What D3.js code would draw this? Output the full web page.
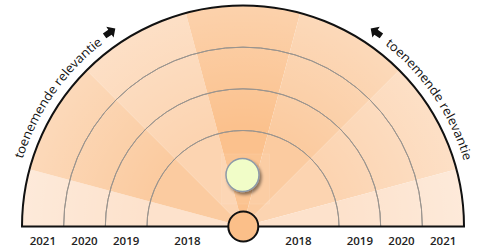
<!DOCTYPE html>
<html>
<head>
<meta charset="utf-8">
<script src="https://cdn.jsdelivr.net/npm/d3@7"></script>
<style>
  body { margin: 0; background: #fff; }
  svg { display: block; }
</style>
</head>
<body>
<svg id="chart" width="478" height="251"></svg>
<script>
// jaren (ringen) en sectoren
const years = [2018, 2019, 2020, 2021];
const sectorStart = [0, 15, 45, 75, 105, 135, 165];
const sectorEnd = [15, 45, 75, 105, 135, 165, 180];
const sectorLevel = ["laag", "midden", "licht", "hoog", "midden", "licht", "laag"];
const levels = ["laag", "licht", "midden", "hoog"];
const arcLabel = "toenemende relevantie";

const width = 478;
const height = 251;
const cx = 243;
const cy = 226.5;
const innerR = 15;

const svg = d3.select("#chart");

const rScale = d3.scaleLinear().domain([2018, 2021]).range([96, 221]);
const outerR = rScale(2021);

const color = d3.scaleOrdinal()
  .domain(levels)
  .range(["#fde2cc", "#fcd4b1", "#fbcba0", "#fbc18d"]);

// hoeken: 0 = links horizontaal, 180 = rechts horizontaal
const toRad = (deg) => ((deg - 90) * Math.PI) / 180;

const defs = svg.append("defs");

// verloop in de coordinaten van de groep (middelpunt = 0,0)
const grad = defs.append("radialGradient")
  .attr("id", "fade")
  .attr("gradientUnits", "userSpaceOnUse")
  .attr("cx", 0)
  .attr("cy", 0)
  .attr("r", outerR);
grad.append("stop").attr("offset", 0).attr("stop-color", "#fff").attr("stop-opacity", 0);
grad.append("stop").attr("offset", 0.45).attr("stop-color", "#fff").attr("stop-opacity", 0);
grad.append("stop").attr("offset", 1).attr("stop-color", "#fff").attr("stop-opacity", 0.27);

defs.append("filter")
  .attr("id", "shadow")
  .attr("x", "-50%").attr("y", "-50%")
  .attr("width", "200%").attr("height", "200%")
  .append("feDropShadow")
  .attr("dx", 2)
  .attr("dy", 2.5)
  .attr("stdDeviation", 1.6)
  .attr("flood-color", "rgba(0,0,0,0.45)");

const g = svg.append("g").attr("transform", `translate(${cx},${cy})`);

const sectors = sectorStart.map((s, i) => ({
  start: s,
  end: sectorEnd[i],
  level: sectorLevel[i],
}));

const sectorArc = d3.arc()
  .innerRadius(0)
  .outerRadius(outerR)
  .startAngle((d) => toRad(d.start))
  .endAngle((d) => toRad(d.end));

g.selectAll(".sector")
  .data(sectors)
  .join("path")
  .attr("class", "sector")
  .attr("d", sectorArc)
  .attr("fill", (d) => color(d.level));

// lichter naar de rand toe
g.append("path")
  .attr("d", d3.arc()({ innerRadius: 0, outerRadius: outerR, startAngle: -Math.PI / 2, endAngle: Math.PI / 2 }))
  .attr("fill", "url(#fade)");

// binnenste ringen
const ringArc = (r) =>
  d3.arc()({ innerRadius: r, outerRadius: r, startAngle: -Math.PI / 2, endAngle: Math.PI / 2 });

g.selectAll(".ring")
  .data(years.slice(0, -1))
  .join("path")
  .attr("class", "ring")
  .attr("d", (d) => ringArc(rScale(d)))
  .attr("fill", "none")
  .attr("stroke", "#9a948e")
  .attr("stroke-width", 1);

// buitenrand
g.append("path")
  .attr("d", ringArc(outerR))
  .attr("fill", "none")
  .attr("stroke", "#111")
  .attr("stroke-width", 2);

g.append("line")
  .attr("x1", -outerR - 1)
  .attr("x2", outerR + 1)
  .attr("y1", 0)
  .attr("y2", 0)
  .attr("stroke", "#111")
  .attr("stroke-width", 2);

// jaartallen links en rechts
const labelR = (y, i) => (i === 0 ? (innerR + rScale(y)) / 2 : (rScale(years[i - 1]) + rScale(y)) / 2);
const labels = [];
years.forEach((y, i) => {
  labels.push({ year: y, x: -labelR(y, i) });
  labels.push({ year: y, x: labelR(y, i) });
});

g.selectAll(".year")
  .data(labels)
  .join("text")
  .attr("class", "year")
  .attr("x", (d) => d.x)
  .attr("y", 18)
  .attr("text-anchor", "middle")
  .style("font-family", "'Open Sans', sans-serif")
  .style("font-size", "11.5px")
  .style("font-weight", "600")
  .style("fill", "#222")
  .text((d) => d.year);

// gebogen tekst
const textR = 230.5;
const textArcs = [
  { id: "arc-left", start: 17, end: 52.5 },
  { id: "arc-right", start: 128, end: 163.5 },
];

textArcs.forEach((t) => {
  const a0 = toRad(t.start);
  const a1 = toRad(t.end);
  const p = d3.path();
  p.arc(0, 0, textR, a0 - Math.PI / 2, a1 - Math.PI / 2, false);
  g.append("path")
    .attr("id", t.id)
    .attr("d", p.toString())
    .attr("fill", "none");
  g.append("text")
    .style("font-family", "'Open Sans', sans-serif")
    .style("font-size", "12.5px")
    .style("fill", "#111")
    .append("textPath")
    .attr("href", `#${t.id}`)
    .attr("textLength", (textR * (t.end - t.start) * Math.PI) / 180)
    .attr("lengthAdjust", "spacingAndGlyphs")
    .text(arcLabel);
});

// pijlen
const arrowShape = "M-6.5,-3 L0,-3 L0,-6.5 L6.5,0 L0,6.5 L0,3 L-6.5,3 Z";
const arrows = [
  { angle: 55.6, dir: 1 },
  { angle: 124.4, dir: -1 },
];
g.selectAll(".arrow")
  .data(arrows)
  .join("path")
  .attr("class", "arrow")
  .attr("d", arrowShape)
  .attr("fill", "#111")
  .attr("transform", (d) => {
    const a = toRad(d.angle);
    const x = Math.sin(a) * 235.5;
    const y = -Math.cos(a) * 235.5;
    const rot = (a * 180) / Math.PI + (d.dir > 0 ? 0 : 180);
    return `translate(${x},${y}) rotate(${rot})`;
  });

// vage rechthoek achter de bol
g.append("rect")
  .attr("x", -21.5)
  .attr("y", -72.5)
  .attr("width", 48)
  .attr("height", 50)
  .attr("fill", "#fff")
  .attr("fill-opacity", 0.05)
  .attr("stroke", "#fff")
  .attr("stroke-opacity", 0.15)
  .attr("stroke-width", 0.6);

g.append("circle")
  .attr("cx", -0.5)
  .attr("cy", -51.5)
  .attr("r", 16.5)
  .attr("fill", "#f1fdc8")
  .attr("stroke", "#8d9aa8")
  .attr("stroke-width", 1.5)
  .attr("filter", "url(#shadow)");

g.append("circle")
  .attr("cx", 0.3)
  .attr("cy", 0)
  .attr("r", innerR)
  .attr("fill", "#fbbf89")
  .attr("stroke", "#111")
  .attr("stroke-width", 2);
</script>
</body>
</html>
